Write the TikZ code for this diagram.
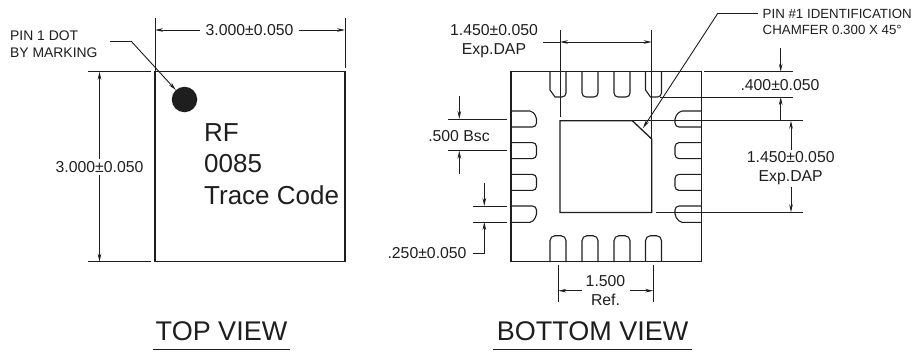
\documentclass[tikz,border=0pt]{standalone}
\usepackage{fontspec}
\setmainfont{Liberation Sans}
\usetikzlibrary{arrows.meta}
\definecolor{ink}{HTML}{1E1E1E}
\tikzset{
  dimline/.style={draw=ink, line width=0.9pt},
  dimarrow/.style={dimline, -{Stealth[length=8pt,width=3.6pt]}},
  outline/.style={draw=ink, line width=1.5pt},
  pinline/.style={draw=ink, line width=1.1pt},
  dimtext/.style={text=ink, font=\fontsize{15.8}{19}\selectfont, inner sep=0pt, align=center},
  smalltext/.style={text=ink, font=\fontsize{13.3}{16}\selectfont, inner sep=0pt, align=left},
  marktext/.style={text=ink, font=\fontsize{26}{31}\selectfont, inner sep=0pt, anchor=base west},
  viewtext/.style={text=ink, font=\fontsize{27}{32}\selectfont, inner sep=0pt, anchor=base},
}
\begin{document}
\begin{tikzpicture}[x=1pt, y=-1pt]
\useasboundingbox (0,0) rectangle (912,351);

% top view
\draw[outline] (155,71.7) rectangle (345,261.7);
\node (dot) at (184.5,99.5) [circle, fill=ink, minimum size=25.5pt, inner sep=0pt] {};
\node (rf) at (204,141) [marktext] {RF};
\node (code) at (204,172) [marktext] {0085};
\node (trace) at (204,204) [marktext] {Trace Code};
\node (pinone) at (10,44.5) [smalltext, anchor=west, font=\fontsize{13.9}{17}\selectfont] {PIN 1 DOT\\BY MARKING};
\coordinate (lead1) at (110,41);
\coordinate (lead2) at (131,41);
\draw[dimline] (lead1) -- (lead2);
\draw[dimarrow] (lead2) -- (dot);

\node (topw) at (249.5,30) [dimtext] {3.000±0.050};
\coordinate (topa) at (155,18);
\coordinate (topb) at (155,71.7);
\coordinate (topc) at (345,18);
\coordinate (topd) at (345,68);
\draw[dimline] (topa) -- (topb);
\draw[dimline] (topc) -- (topd);
\draw[dimarrow] (topw.west) ++(-5,0) -- (topb |- topw);
\draw[dimarrow] (topw.east) ++(5,0) -- (topd |- topw);

\node (toph) at (99.5,167) [dimtext] {3.000±0.050};
\coordinate (hta) at (88,71.7);
\coordinate (htb) at (151,71.7);
\coordinate (hba) at (88,261.7);
\coordinate (hbb) at (151,261.7);
\draw[dimline] (hta) -- (htb);
\draw[dimline] (hba) -- (hbb);
\draw[dimarrow] (toph.north) ++(0,-2) -- (toph |- hta);
\draw[dimarrow] (toph.south) ++(0,2) -- (toph |- hba);

\node (topview) at (221.5,340) [viewtext] {TOP VIEW};
\coordinate (topu1) at (153,349.5);
\coordinate (topu2) at (290,349.5);
\draw[dimline, line width=1.2pt] (topu1) -- (topu2);

% bottom view
\draw[outline] (511,71.7) rectangle (701.7,261.7);
\foreach \px/\py in {558/0,590/1,622/1,653.5/0} {
  \ifnum\py=0
    \draw[pinline] (\px-8,72) -- (\px-8,90) -- (\px-3,97) [rounded corners=4pt] -- (\px+8,97) -- (\px+8,72);
  \else
    \draw[pinline, rounded corners=4pt] (\px-8,72) -- (\px-8,97) -- (\px+8,97) -- (\px+8,72);
  \fi
  \draw[pinline, rounded corners=5pt] (\px-8,261) -- (\px-8,235.7) -- (\px+8,235.7) -- (\px+8,261);
}
\foreach \py in {150.6,182.4} {
  \draw[pinline, rounded corners=4pt] (511,\py-8) -- (536.5,\py-8) -- (536.5,\py+8) -- (511,\py+8);
  \draw[pinline, rounded corners=4pt] (701,\py-8) -- (675,\py-8) -- (675,\py+8) -- (701,\py+8);
}
% corner pins have a cut corner
\draw[pinline, rounded corners=2pt] (511,111) -- (532,111) -- (536.5,117) [rounded corners=4pt] -- (536.5,127) -- (511,127);
\draw[pinline, rounded corners=2pt] (511,222.3) -- (532,222.3) -- (536.5,216) [rounded corners=4pt] -- (536.5,206) -- (511,206);
\draw[pinline, rounded corners=2pt] (701,111) -- (680,111) -- (675,117) [rounded corners=4pt] -- (675,127) -- (701,127);
\draw[pinline, rounded corners=2pt] (701,222.3) -- (680,222.3) -- (675,216) [rounded corners=4pt] -- (675,206) -- (701,206);

\coordinate (dapa) at (560,120.7);
\coordinate (dapb) at (632.3,120.7);
\coordinate (dapc) at (651.7,139);
\coordinate (dapd) at (651.7,212.5);
\coordinate (dape) at (560,212.5);
\draw[outline, line width=1.3pt] (dapa) -- (dapb) -- (dapc) -- (dapd) -- (dape) -- cycle;

% exposed pad, width
\node (dapw) at (494,41.5) [dimtext] {1.450±0.050\\Exp.DAP};
\coordinate (wla) at (560,30);
\coordinate (wlb) at (560,117);
\coordinate (wra) at (651.7,30);
\coordinate (wstub) at (543,42);
\coordinate (wleft) at (560,42);
\coordinate (wright) at (651.7,42);
\draw[dimline] (wla) -- (wlb);
\draw[dimline] (wra) -- (dapc);
\draw[dimline] (wstub) -- (wleft);
\draw[dimarrow, {Stealth[length=8pt,width=3.6pt]}-{Stealth[length=8pt,width=3.6pt]}] (wleft) -- (wright);

% chamfer leader
\node (chamfer) at (762.5,21.5) [smalltext, anchor=west] {PIN \#1 IDENTIFICATION\\CHAMFER 0.300 X 45°};
\coordinate (cha) at (758,13);
\coordinate (chb) at (718,13);
\coordinate (chc) at (643,128);
\draw[dimline] (cha) -- (chb);
\draw[dimarrow] (chb) -- (chc);

% pin length
\node (pinlen) at (780,85) [dimtext] {.400±0.050};
\coordinate (laa) at (704,71.7);
\coordinate (lab) at (792.7,71.7);
\coordinate (lba) at (660,97);
\coordinate (lbb) at (792.7,97);
\coordinate (lca) at (632.3,120.7);
\coordinate (lcb) at (803,120.7);
\coordinate (lda) at (655.7,212.3);
\coordinate (ldb) at (803,212.3);
\coordinate (ara) at (780.7,48);
\coordinate (arb) at (780.7,71.7);
\coordinate (arc) at (780.7,120.7);
\coordinate (ard) at (780.7,97);
\draw[dimline] (laa) -- (lab);
\draw[dimline] (lba) -- (lbb);
\draw[dimline] (lca) -- (lcb);
\draw[dimline] (lda) -- (ldb);
\draw[dimarrow] (ara) -- (arb);
\draw[dimarrow] (arc) -- (ard);

% exposed pad, height
\node (daph) at (790.7,168.5) [dimtext] {1.450±0.050\\Exp.DAP};
\draw[dimarrow] (daph.north -| lcb) ++(-12,-2) -- (791,120.7);
\draw[dimarrow] (daph.south -| ldb) ++(-12,2) -- (791,212.3);

% pitch
\node (pitch) at (459,136) [dimtext] {.500 Bsc};
\coordinate (pta) at (447.7,119);
\coordinate (ptb) at (507,119);
\coordinate (pba) at (447.7,150.7);
\coordinate (pbb) at (507,150.7);
\coordinate (pca) at (459.3,96);
\coordinate (pcb) at (459.3,119);
\coordinate (pcc) at (459.3,174);
\coordinate (pcd) at (459.3,150.7);
\draw[dimline] (pta) -- (ptb);
\draw[dimline] (pba) -- (pbb);
\draw[dimarrow] (pca) -- (pcb);
\draw[dimarrow] (pcc) -- (pcd);

% pin width
\node (pinw) at (466.7,253) [dimtext, anchor=east] {.250±0.050};
\coordinate (wta) at (472.7,206);
\coordinate (wtb) at (507,206);
\coordinate (wba) at (472.7,222);
\coordinate (wbb) at (507,222);
\coordinate (wca) at (484.3,183);
\coordinate (wcb) at (484.3,206);
\coordinate (wcc) at (472.7,253);
\coordinate (wcd) at (484.3,253);
\coordinate (wce) at (484.3,222);
\draw[dimline] (wta) -- (wtb);
\draw[dimline] (wba) -- (wbb);
\draw[dimarrow] (wca) -- (wcb);
\draw[dimarrow] (wcc) -- (wcd) -- (wce);

% reference span
\node (span) at (605.5,290.5) [dimtext] {1.500\\Ref.};
\coordinate (sla) at (558.3,265);
\coordinate (slb) at (558.3,302);
\coordinate (sra) at (653.3,265);
\coordinate (srb) at (653.3,302);
\coordinate (saa) at (582,290.7);
\coordinate (sab) at (558.3,290.7);
\coordinate (sac) at (630,290.7);
\coordinate (sad) at (653.3,290.7);
\draw[dimline] (sla) -- (slb);
\draw[dimline] (sra) -- (srb);
\draw[dimarrow] (saa) -- (sab);
\draw[dimarrow] (sac) -- (sad);

\node (bottomview) at (592.5,340) [viewtext] {BOTTOM VIEW};
\coordinate (botu1) at (493,349.5);
\coordinate (botu2) at (692,349.5);
\draw[dimline, line width=1.2pt] (botu1) -- (botu2);
\end{tikzpicture}
\end{document}
